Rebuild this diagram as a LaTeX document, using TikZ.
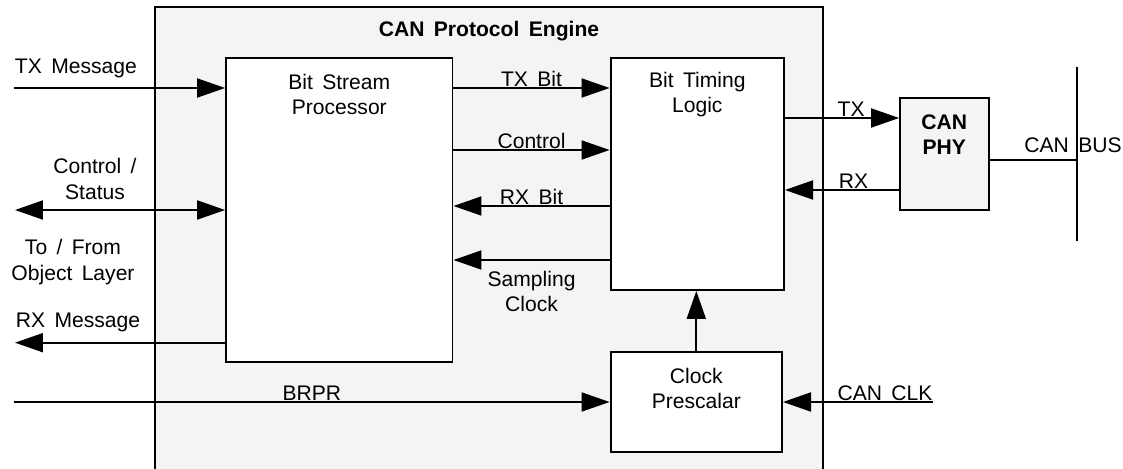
\documentclass[tikz,border=0pt]{standalone}
\usepackage{fontspec}
\setmainfont{Liberation Sans}[WordSpace=1.6]
\usepackage{xcolor}
\usepackage{tikz}
\usetikzlibrary{arrows.meta, positioning}
\definecolor{enginegray}{RGB}{244,244,244}
\newcommand{\sigfont}{\fontsize{12}{14.5}\selectfont}

\begin{document}
\begin{tikzpicture}[
    x=0.02cm, y=-0.02cm,
    font=\sigfont,
    block/.style={rectangle, draw, fill=white, line width=1.1pt, inner sep=0pt},
    inlabel/.style={anchor=center, yshift=-0.75cm, align=center},
    tag/.style={anchor=base, inner sep=0pt, yshift=1pt},
    arrow/.style={-{Triangle[length=0.56cm, width=0.38cm]}, line width=1.1pt},
    dblarrow/.style={{Triangle[length=0.56cm, width=0.38cm]}-{Triangle[length=0.56cm, width=0.38cm]}, line width=1.1pt},
    wire/.style={line width=1.1pt}
]
\useasboundingbox (0,0) rectangle (1123,469);

\node[block, draw=none, fill=enginegray, minimum width=13.33cm, minimum height=9.44cm] (engine) at (489.3,244) {};
\draw[wire] (engine.south west) |- (engine.north east) -- (engine.south east);
\node[font=\sigfont\bfseries] (title) at (489,31) {CAN Protocol Engine};

\node[block, minimum width=4.53cm, minimum height=6.08cm, label={[inlabel]north:Bit Stream\\Processor}] (bsp) at (339.3,210) {};
\node[block, minimum width=3.47cm, minimum height=4.64cm, label={[inlabel]north:Bit Timing\\Logic}] (btl) at (697.3,174) {};
\node[block, minimum width=3.43cm, minimum height=1.99cm, label={[inlabel]north:Clock\\Prescalar}] (presc) at (696.3,401.8) {};
\node[block, fill=enginegray, minimum width=1.77cm, minimum height=2.24cm, label={[inlabel, font=\sigfont\bfseries]north:CAN\\PHY}] (phy) at (944.3,154) {};

\coordinate (txmsg) at (14,88);
\coordinate (ctlstat) at (15,210);
\coordinate (rxmsg) at (15,342.7);
\coordinate (brpr) at (14,402);
\coordinate (canclk) at (933,402);
\coordinate (bustop) at (1076.7,67);
\coordinate (busbot) at (1076.7,240.7);
\coordinate (busin) at (1076.7,160);

\node[align=center] (ctltext) at (95,179) {Control /\\Status};
\node[align=center] (objtext) at (73,262) {To / From\\Object Layer};
\node (bustext) at (1073,145) {CAN BUS};

\draw[arrow] (txmsg) -- node[pos=0, anchor=base west, inner sep=0pt, yshift=0.28cm] {TX Message} (bsp.west |- txmsg);
\draw[dblarrow] (ctlstat) -- (bsp.west |- ctlstat);
\draw[arrow] (bsp.west |- rxmsg) -- node[pos=1, anchor=base west, inner sep=0pt, yshift=0.3cm] {RX Message} (rxmsg);
\draw[arrow] (brpr) -- node[tag] {BRPR} (presc.west |- brpr);

\draw[arrow] (bsp.east |- 0,88) -- node[tag] {TX Bit} (btl.west |- 0,88);
\draw[arrow] (bsp.east |- 0,150) -- node[tag] {Control} (btl.west |- 0,150);
\draw[arrow] (btl.west |- 0,206) -- node[tag] {RX Bit} (bsp.east |- 0,206);
\draw[arrow] (btl.west |- 0,260) -- node[below=0.2cm, inner sep=0pt, align=center] {Sampling\\Clock} (bsp.east |- 0,260);

\draw[arrow] (btl.east |- 0,118) -- node[tag, pos=0.58] {TX} (phy.west |- 0,118);
\draw[arrow] (phy.west |- 0,190) -- node[tag, pos=0.4] {RX} (btl.east |- 0,190);
\draw[arrow] (presc.north) -- (presc.north |- btl.south);
\draw[arrow] (canclk) -- node[tag, pos=0.32] {CAN CLK} (presc.east |- canclk);

\draw[wire] (bustop) -- (busbot);
\draw[wire] (phy.east |- busin) -- (busin);
\end{tikzpicture}
\end{document}
